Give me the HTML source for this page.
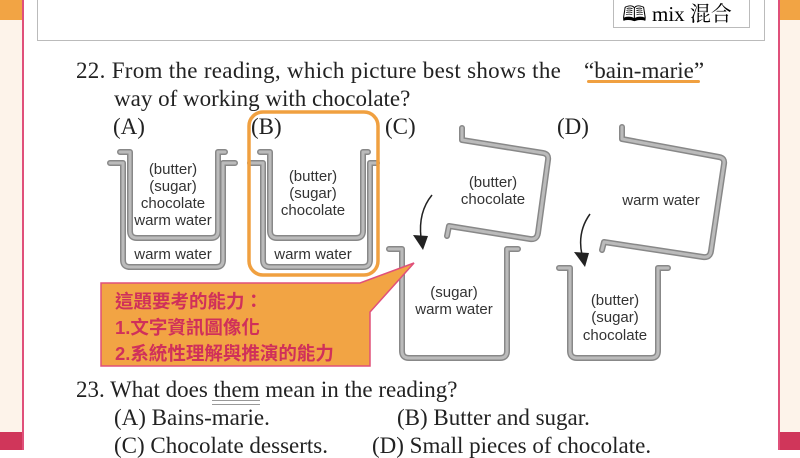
<!DOCTYPE html>
<html><head><meta charset="utf-8"><style>
body{margin:0;width:800px;height:450px;overflow:hidden;background:#fff;position:relative;font-family:"Liberation Serif","Noto Serif CJK SC",serif;}
.a{position:absolute;white-space:nowrap}
.q{font-size:23px;line-height:23px;color:#222}
</style></head><body>
<div class="a" style="left:0;top:0;width:22px;height:450px;background:#fdf3ea"></div>
<div class="a" style="left:780px;top:0;width:20px;height:450px;background:#fdf3ea"></div>
<div class="a" style="left:0;top:0;width:22px;height:20px;background:#f2a444"></div>
<div class="a" style="left:780px;top:0;width:20px;height:20px;background:#f2a444"></div>
<div class="a" style="left:0;top:432px;width:22px;height:18px;background:#d0365a"></div>
<div class="a" style="left:780px;top:432px;width:20px;height:18px;background:#d0365a"></div>
<div class="a" style="left:22px;top:0;width:2px;height:450px;background:#e0507a"></div>
<div class="a" style="left:778px;top:0;width:2px;height:450px;background:#e0507a"></div>
<div class="a" style="left:37px;top:-2px;width:726px;height:41px;border:1px solid #bbb"></div>
<div class="a" style="left:613px;top:-2px;width:137px;height:30px;border:1px solid #bbb;font-size:21px;line-height:30px;padding-left:8px;box-sizing:border-box">🕮 mix 混合</div>

<div class="a q" style="left:76px;top:59px;letter-spacing:0.3px">22. From the reading, which picture best shows the</div>
<div class="a q" style="left:584px;top:59px">“bain-marie”</div>
<div class="a" style="left:587px;top:80px;width:113px;height:3px;background:#f0a040;border-radius:2px"></div>
<div class="a q" style="left:114px;top:87px">way of working with chocolate?</div>
<div class="a q" style="left:113px;top:115px">(A)</div>
<div class="a q" style="left:251px;top:115px">(B)</div>
<div class="a q" style="left:385px;top:115px">(C)</div>
<div class="a q" style="left:557px;top:115px">(D)</div>

<svg class="a" style="left:0;top:0" width="800" height="450" viewBox="0 0 800 450">
<g fill="none" stroke="#888" stroke-width="6" stroke-linecap="round" stroke-linejoin="round">
<path d="M110,163 H123 V260 Q123,267 130,267 H216 Q223,267 223,260 V163 H235"/>
<path d="M120,152 H130 V231 Q130,238 137,238 H211 Q218,238 218,231 V152 H225"/>
<path d="M250,163 H263 V260 Q263,267 270,267 H363 Q370,267 370,260 V163 H377"/>
<path d="M260,152 H270 V231 Q270,238 277,238 H356 Q363,238 363,231 V152 H368"/>
<path d="M389,249 H402 V351 Q402,358 409,358 H500 Q507,358 507,351 V249 H518"/>
<path d="M462,128 V140 L543,153 Q549,154 548,160 L538,233 Q537,240 530,239 L449,226 L447,236"/>
<path d="M559,268 H570 V351 Q570,358 577,358 H651 Q658,358 658,351 V268 H668"/>
<path d="M622,127 V139 L719,157 Q725,158 724,164 L711,251 Q710,258 703,257 L604,242 L602,250"/>
</g>
<g fill="none" stroke="#bbb" stroke-width="3" stroke-linecap="round" stroke-linejoin="round">
<path d="M110,163 H123 V260 Q123,267 130,267 H216 Q223,267 223,260 V163 H235"/>
<path d="M120,152 H130 V231 Q130,238 137,238 H211 Q218,238 218,231 V152 H225"/>
<path d="M250,163 H263 V260 Q263,267 270,267 H363 Q370,267 370,260 V163 H377"/>
<path d="M260,152 H270 V231 Q270,238 277,238 H356 Q363,238 363,231 V152 H368"/>
<path d="M389,249 H402 V351 Q402,358 409,358 H500 Q507,358 507,351 V249 H518"/>
<path d="M462,128 V140 L543,153 Q549,154 548,160 L538,233 Q537,240 530,239 L449,226 L447,236"/>
<path d="M559,268 H570 V351 Q570,358 577,358 H651 Q658,358 658,351 V268 H668"/>
<path d="M622,127 V139 L719,157 Q725,158 724,164 L711,251 Q710,258 703,257 L604,242 L602,250"/>
</g>
<rect x="249" y="112" width="129" height="163" rx="14" fill="none" stroke="#f0a040" stroke-width="3.5"/>
<path d="M432,195 Q418,212 421,238" fill="none" stroke="#222" stroke-width="1.5"/>
<path d="M413,235 L428,236 L423,250 Z" fill="#222"/>
<path d="M590,214 Q577,232 582,255" fill="none" stroke="#222" stroke-width="1.5"/>
<path d="M574,252 L589,253 L585,267 Z" fill="#222"/>
<path d="M101,283 H360 L414,263 L370,312 V366 H101 Z" fill="#f2a444" stroke="#e0507a" stroke-width="1.5"/>
<g font-family="Liberation Sans, sans-serif" font-size="15" fill="#333" text-anchor="middle">
<text x="173" y="174">(butter)</text><text x="173" y="191">(sugar)</text><text x="173" y="208">chocolate</text><text x="173" y="225">warm water</text><text x="173" y="259">warm water</text>
<text x="313" y="181">(butter)</text><text x="313" y="198">(sugar)</text><text x="313" y="215">chocolate</text><text x="313" y="259">warm water</text>
<text x="493" y="187">(butter)</text><text x="493" y="204">chocolate</text>
<text x="454" y="297">(sugar)</text><text x="454" y="314">warm water</text>
<text x="661" y="205">warm water</text>
<text x="615" y="305">(butter)</text><text x="615" y="322">(sugar)</text><text x="615" y="340">chocolate</text>
</g>
<g font-family="Liberation Sans, Noto Sans CJK TC, sans-serif" font-size="18.5" font-weight="bold" fill="#d0305a">
<text x="115" y="308">這題要考的能力：</text><text x="115" y="334">1.文字資訊圖像化</text><text x="115" y="360">2.系統性理解與推演的能力</text>
</g>
</svg>

<div class="a q" style="left:76px;top:378px">23. What does them mean in the reading?</div>
<div class="a" style="left:212px;top:400px;width:48px;height:3px;border-top:1px solid #999;border-bottom:1px solid #999"></div>
<div class="a q" style="left:114px;top:406px">(A) Bains-marie.</div>
<div class="a q" style="left:397px;top:406px">(B) Butter and sugar.</div>
<div class="a q" style="left:114px;top:434px">(C) Chocolate desserts.</div>
<div class="a q" style="left:372px;top:434px">(D) Small pieces of chocolate.</div>
</body></html>
